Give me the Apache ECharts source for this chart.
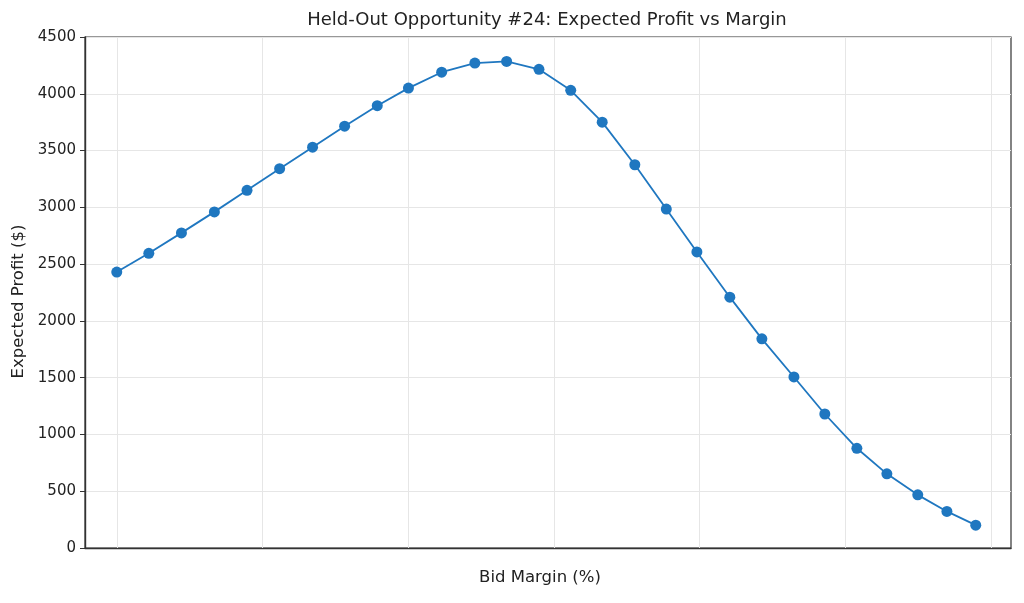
<!DOCTYPE html>
<html>
<head>
<meta charset="utf-8">
<script src="https://cdn.jsdelivr.net/npm/echarts@6/dist/echarts.min.js"></script>
<style>html,body{margin:0;padding:0;background:#fff}#c{width:1024px;height:603px}</style>
</head>
<body>
<div id="c"></div>
<script>
const margins = [5.0, 6.1, 7.22, 8.35, 9.47, 10.59, 11.72, 12.82, 13.94, 15.01, 16.15, 17.29, 18.38, 19.49, 20.58, 21.66, 22.78, 23.86, 24.91, 26.04, 27.14, 28.24, 29.3, 30.4, 31.43, 32.49, 33.49, 34.48];
const profits = [2430, 2595, 2775, 2960, 3150, 3340, 3530, 3715, 3895, 4050, 4190, 4270, 4285, 4215, 4030, 3750, 3375, 2985, 2607, 2209, 1842, 1506, 1180, 878, 653, 468, 322, 201];
const xGridTicks = [5, 10, 15, 20, 25, 30, 35];
const yTicks = [0, 500, 1000, 1500, 2000, 2500, 3000, 3500, 4000, 4500];

const chart = echarts.init(document.getElementById('c'), null, {renderer: 'canvas'});
const font = 'DejaVu Sans';
chart.setOption({
  animation: false,
  backgroundColor: '#ffffff',
  title: {
    text: 'Held-Out Opportunity #24: Expected Profit vs Margin',
    left: 542, top: 6, textAlign: 'center',
    textStyle: {fontFamily: font, fontSize: 18, fontWeight: 'normal', color: '#222'}
  },
  grid: {left: 85, right: 13, top: 37, bottom: 55, show: true, borderColor: '#333', borderWidth: 1.2, backgroundColor: 'transparent'},
  xAxis: {
    type: 'value', min: 3.91, max: 35.69,
    name: 'Bid Margin (%)', nameLocation: 'middle', nameGap: 21,
    nameTextStyle: {fontFamily: font, fontSize: 16.5, color: '#222', padding: [0, 16, 0, 0]},
    axisLabel: {show: false}, axisTick: {show: false},
    splitLine: {show: false},
    axisLine: {show: true, lineStyle: {color: '#333', width: 1.4}}
  },
  yAxis: {
    type: 'value', min: yTicks[0], max: yTicks[yTicks.length - 1], interval: 500,
    name: 'Expected Profit ($)', nameLocation: 'middle', nameGap: 56,
    nameTextStyle: {fontFamily: font, fontSize: 16.5, color: '#222', padding: [0, 18, 0, 0]},
    axisLabel: {fontFamily: font, fontSize: 15, color: '#222', margin: 9, formatter: v => String(v)},
    axisTick: {show: true, length: 5, lineStyle: {color: '#333'}},
    axisLine: {show: true, lineStyle: {color: '#333', width: 1.4}},
    splitLine: {show: true, lineStyle: {color: '#e6e6e6', width: 1}}
  },
  series: [{
    type: 'line',
    data: margins.map((m, i) => [m, profits[i]]),
    symbol: 'circle', symbolSize: 11,
    lineStyle: {color: '#1f77c0', width: 1.8},
    itemStyle: {color: '#1f77c0'},
    z: 5,
    markLine: {
      silent: true, symbol: 'none', label: {show: false},
      lineStyle: {color: '#e6e6e6', width: 1, type: 'solid'},
      z: 1,
      data: xGridTicks.map(v => ({xAxis: v}))
    }
  }]
});
</script>
</body>
</html>
